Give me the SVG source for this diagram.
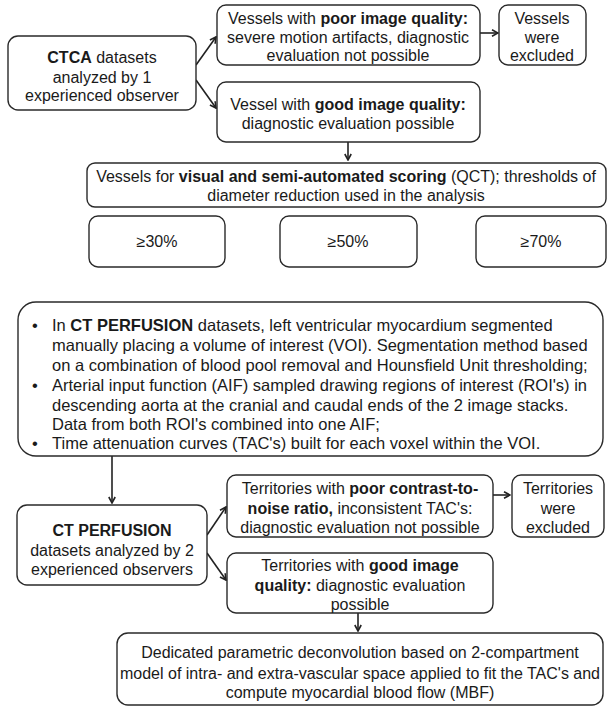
<svg xmlns="http://www.w3.org/2000/svg" width="608" height="709" viewBox="0 0 608 709">
<defs>
<marker id="ah" markerWidth="8" markerHeight="8" refX="7" refY="4" orient="auto" markerUnits="userSpaceOnUse">
<path d="M1,0.8 L7,4 L1,7.2" fill="none" stroke="#222" stroke-width="1.6"/>
</marker>
<style>
.box{fill:#fff;stroke:#2a2a2a;stroke-width:1.4}
.t{font-family:"Liberation Sans",Arial,sans-serif;font-size:16px;fill:#1a1a1a;text-anchor:middle}
.l{font-family:"Liberation Sans",Arial,sans-serif;font-size:16.5px;fill:#1a1a1a}
.b{font-weight:bold}
.c{fill:none;stroke:#222;stroke-width:1.6}
</style>
</defs>
<rect width="608" height="709" fill="#fff"/>
<g id="connectors">
<path class="c" d="M196,65 L216,37" marker-end="url(#ah)"/>
<path class="c" d="M196,80 L216,108" marker-end="url(#ah)"/>
<path class="c" d="M480,33 L498,33" marker-end="url(#ah)"/>
<path class="c" d="M348,142 L348,160" marker-end="url(#ah)"/>
<path class="c" d="M112,456 L112,503" marker-end="url(#ah)"/>
<path class="c" d="M207,535 L226,507" marker-end="url(#ah)"/>
<path class="c" d="M207,553 L226,580" marker-end="url(#ah)"/>
<path class="c" d="M493,495 L510,495" marker-end="url(#ah)"/>
<path class="c" d="M358,613 L358,631" marker-end="url(#ah)"/>
</g>
<g id="ctca">
<rect class="box" x="8" y="36" width="188" height="74" rx="10"/>
<text class="t" x="102" y="63"><tspan class="b">CTCA</tspan> datasets</text>
<text class="t" x="102" y="83">analyzed by 1</text>
<text class="t" x="102" y="101">experienced observer</text>
</g>
<g id="poor">
<rect class="box" x="217" y="5" width="263" height="60" rx="9"/>
<text class="t" x="348" y="24">Vessels with <tspan class="b">poor image quality:</tspan></text>
<text class="t" x="348" y="43">severe motion artifacts, diagnostic</text>
<text class="t" x="348" y="61">evaluation not possible</text>
</g>
<g id="excluded">
<rect class="box" x="499" y="5" width="87" height="60" rx="9"/>
<text class="t" x="542" y="24">Vessels</text>
<text class="t" x="542" y="43">were</text>
<text class="t" x="542" y="61">excluded</text>
</g>
<g id="good">
<rect class="box" x="217" y="82" width="263" height="60" rx="9"/>
<text class="t" x="348" y="110">Vessel with <tspan class="b">good image quality:</tspan></text>
<text class="t" x="348" y="129">diagnostic evaluation possible</text>
</g>
<g id="qct">
<rect class="box" x="87" y="163" width="519" height="44" rx="8"/>
<text class="t" x="346" y="182">Vessels for <tspan class="b">visual and semi-automated scoring</tspan> (QCT); thresholds of</text>
<text class="t" x="346" y="201">diameter reduction used in the analysis</text>
</g>
<g id="t30">
<rect class="box" x="89" y="216" width="136" height="51" rx="9"/>
<text class="t" x="157" y="247">≥30%</text>
</g>
<g id="t50">
<rect class="box" x="280" y="216" width="137" height="51" rx="9"/>
<text class="t" x="348" y="247">≥50%</text>
</g>
<g id="t70">
<rect class="box" x="476" y="216" width="130" height="51" rx="9"/>
<text class="t" x="541" y="247">≥70%</text>
</g>
<g id="perfusion-method">
<rect class="box" x="18" y="302" width="585" height="154" rx="18"/>
<text class="l" x="32" y="331">•</text>
<text class="l" x="52" y="331">In <tspan class="b">CT PERFUSION</tspan> datasets, left ventricular myocardium segmented</text>
<text class="l" x="52" y="351">manually placing a volume of interest (VOI). Segmentation method based</text>
<text class="l" x="52" y="371">on a combination of blood pool removal and Hounsfield Unit thresholding;</text>
<text class="l" x="32" y="391">•</text>
<text class="l" x="52" y="391">Arterial input function (AIF) sampled drawing regions of interest (ROI's) in</text>
<text class="l" x="52" y="411">descending aorta at the cranial and caudal ends of the 2 image stacks.</text>
<text class="l" x="52" y="430">Data from both ROI's combined into one AIF;</text>
<text class="l" x="32" y="449">•</text>
<text class="l" x="52" y="449">Time attenuation curves (TAC's) built for each voxel within the VOI.</text>
</g>
<g id="ctp">
<rect class="box" x="17" y="505" width="190" height="80" rx="10"/>
<text class="t" x="112" y="536"><tspan class="b">CT PERFUSION</tspan></text>
<text class="t" x="112" y="556">datasets analyzed by 2</text>
<text class="t" x="112" y="575">experienced observers</text>
</g>
<g id="poor-territories">
<rect class="box" x="227" y="475" width="266" height="62" rx="9"/>
<text class="t" x="360" y="494">Territories with <tspan class="b">poor contrast-to-</tspan></text>
<text class="t" x="360" y="514"><tspan class="b">noise ratio,</tspan> inconsistent TAC's:</text>
<text class="t" x="360" y="533">diagnostic evaluation not possible</text>
</g>
<g id="territories-excluded">
<rect class="box" x="512" y="475" width="92" height="62" rx="9"/>
<text class="t" x="558" y="494">Territories</text>
<text class="t" x="558" y="514">were</text>
<text class="t" x="558" y="533">excluded</text>
</g>
<g id="good-territories">
<rect class="box" x="227" y="553" width="266" height="60" rx="9"/>
<text class="t" x="360" y="571">Territories with <tspan class="b">good image</tspan></text>
<text class="t" x="360" y="591"><tspan class="b">quality:</tspan> diagnostic evaluation</text>
<text class="t" x="360" y="610">possible</text>
</g>
<g id="deconvolution">
<rect class="box" x="117" y="633" width="486" height="72" rx="11"/>
<text class="t" x="360" y="658">Dedicated parametric deconvolution based on 2-compartment</text>
<text class="t" x="360" y="679">model of intra- and extra-vascular space applied to fit the TAC's and</text>
<text class="t" x="360" y="698">compute myocardial blood flow (MBF)</text>
</g>
</svg>
